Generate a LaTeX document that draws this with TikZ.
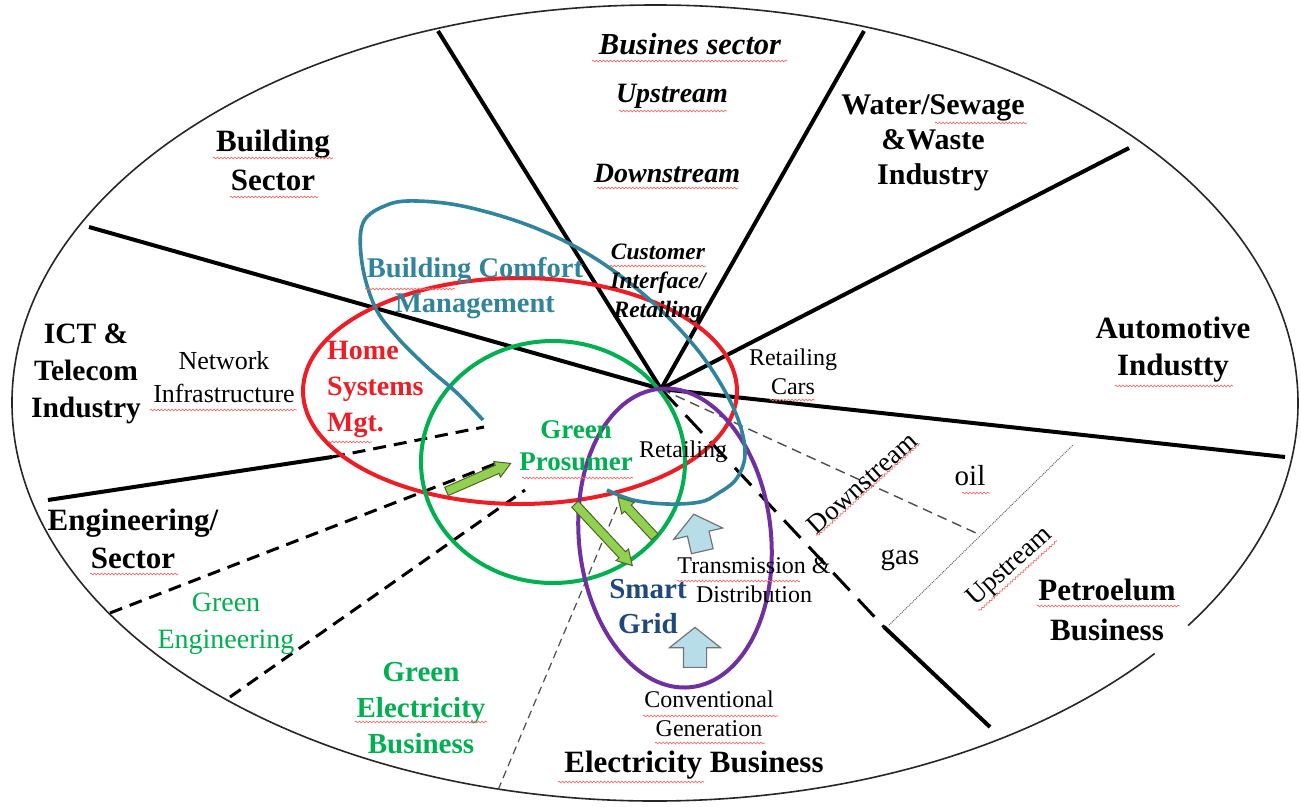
\documentclass[tikz,border=0pt]{standalone}
\usepackage{fontspec}
\setmainfont{Liberation Serif}
\usetikzlibrary{shapes.arrows,decorations.pathmorphing}
\definecolor{cred}{HTML}{EE1C24}
\definecolor{cgreen}{HTML}{00B050}
\definecolor{cpurple}{HTML}{7030A0}
\definecolor{cteal}{HTML}{31849B}
\definecolor{cnavy}{HTML}{1F497D}
\definecolor{arrgreen}{HTML}{92D050}
\definecolor{arrline}{HTML}{4F6228}
\definecolor{lblue}{HTML}{B7DEE8}
\definecolor{wavyred}{HTML}{EE7070}
\begin{document}
\begin{tikzpicture}[x=1pt,y=-1pt,
  every node/.style={inner sep=0pt, align=center},
  outer/.style={line width=1.6pt, black!85},
  sector/.style={line width=4pt, black},
  thickdash/.style={line width=3pt, black, dash pattern=on 13pt off 8pt},
  longdash/.style={line width=3pt, black, dash pattern=on 24pt off 12pt},
  thindash/.style={line width=1.4pt, black!70, dash pattern=on 10pt off 6pt},
  thindot/.style={line width=1pt, black!60, densely dotted},
  ring/.style={line width=4pt},
  garrow/.style={single arrow, draw=arrline, fill=arrgreen, line width=1pt,
    single arrow head extend=4pt, single arrow tip angle=60},
  barrow/.style={single arrow, draw=black!55, fill=lblue, line width=1.2pt,
    single arrow head extend=14pt, single arrow tip angle=103},
  lab/.style={font=\fontsize{31}{37}\selectfont\bfseries},
  bi/.style={font=\fontsize{28}{33}\selectfont\bfseries\itshape},
  cust/.style={font=\fontsize{23.5}{29}\selectfont\bfseries\itshape},
  reg/.style={font=\fontsize{26}{33}\selectfont},
  small/.style={font=\fontsize{24}{29}\selectfont},
  wavy/.style={draw=wavyred, line width=0.7pt, decorate,
    decoration={snake, amplitude=0.9pt, segment length=3.5pt}},
]
\useasboundingbox (0,0) rectangle (1301,806);

% outer ellipse (with small gap lower right)
\draw[outer] (655,403) ++(39:643 and 398) arc[start angle=39, end angle=394, x radius=643, y radius=398];

% hub and sector boundaries
\coordinate (hub) at (661,389);
\coordinate (e1) at (438,31);
\coordinate (e2) at (864,31);
\coordinate (e3) at (1129,148);
\coordinate (e4) at (1285,457);
\coordinate (e5) at (89,227);
\coordinate (e6a) at (48,500);
\coordinate (e6b) at (332,457);
\coordinate (e6c) at (484,427);
\coordinate (e7a) at (884,627);
\coordinate (e7b) at (990,727);
\coordinate (e8) at (976,533);
\coordinate (e9a) at (889,625);
\coordinate (e9b) at (1073,445);
\coordinate (da1) at (110,613);
\coordinate (da2) at (500,462);
\coordinate (db1) at (230,697);
\coordinate (db2) at (525,490);
\coordinate (dc1) at (498,790);
\coordinate (dc2) at (625,488);

\draw[sector] (hub) -- (e1);
\draw[sector] (hub) -- (e2);
\draw[sector] (hub) -- (e3);
\draw[sector] (hub) -- (e4);
\draw[sector] (hub) -- (e5);
\draw[sector] (e6a) -- (e6b);
\draw[thickdash] (e6b) -- (e6c);
\draw[longdash] (hub) -- (e7a);
\draw[sector] (e7a) -- (e7b);
\draw[thindash] (hub) -- (e8);
\draw[thindot] (e9a) -- (e9b);
\draw[thickdash] (da1) -- (da2);
\draw[thickdash] (db1) -- (db2);
\draw[thindash, line width=1.2pt, dash pattern=on 8pt off 5pt] (dc1) -- (dc2);

% coloured rings
\draw[ring, cred] (520,391) ellipse [x radius=217, y radius=113];
\draw[ring, cgreen] (553,462) ellipse [x radius=132, y radius=121];
\draw[ring, cpurple, rotate around={6:(675,538)}] (675,538) ellipse [x radius=96, y radius=150];
\draw[ring, cteal, line width=3.6pt] plot[smooth, tension=0.6] coordinates {
  (483,420) (457,393) (427,367) (397,337) (375,307) (362,263) (363,223) (387,205)
  (417,201) (467,207) (533,227) (593,257) (650,300) (700,353) (733,407) (745,450)
  (737,478) (717,494) (700,502) (667,504) (633,500) (607,490)};

% arrows
\node[garrow, minimum height=70pt, rotate=23.6] (ga1) at (475,479) {\rule{0pt}{8pt}};
\node[garrow, minimum height=84pt, rotate=-47] (ga2) at (601,532) {\rule{0pt}{8pt}};
\node[garrow, minimum height=54pt, rotate=133] (ga3) at (639,520) {\rule{0pt}{8pt}};
\node[barrow, minimum height=38pt, rotate=103] (ba1) at (699,537) {\rule{0pt}{21pt}};
\node[barrow, minimum height=40pt, rotate=90] (ba2) at (695,652) {\rule{0pt}{22pt}};

% texts
\node[bi, font=\fontsize{30.5}{33}\selectfont\bfseries\itshape] (bus) at (690,44) {Busines sector};
\node[bi] (bup) at (672,96) {Upstream};
\node[bi] (bdown) at (667,173) {Downstream};
\node[cust] (cust) at (658,283) {Customer\\Interface/\\Retailing};
\node[lab, font=\fontsize{31}{39}\selectfont\bfseries] (bsec) at (273,160) {Building\\Sector};
\node[lab, font=\fontsize{30}{35}\selectfont\bfseries] (water) at (933,143) {Water/Sewage\\\&Waste\\Industry};
\node[lab] (auto) at (1173,350) {Automotive\\Industty};
\node[lab, font=\fontsize{29.5}{37}\selectfont\bfseries] (ict) at (86,374) {ICT \&\\Telecom\\Industry};
\node[reg] (net) at (224,377) {Network\\Infrastructure};
\node[font=\fontsize{28}{36}\selectfont\bfseries, text=cred, align=left, anchor=west] (home) at (327,389) {Home\\Systems\\Mgt.};
\node[font=\fontsize{28.5}{35}\selectfont\bfseries, text=cteal] (bcm) at (475,288) {Building Comfort\\Management};
\node[font=\fontsize{27}{32}\selectfont\bfseries, text=cgreen] (gp) at (576,446) {Green\\Prosumer};
\node[small] (ret) at (683,452) {Retailing};
\node[small] (rc) at (793,372) {Retailing\\Cars};
\node[font=\fontsize{29}{35}\selectfont\bfseries, text=cnavy] (sg) at (648,607) {Smart\\Grid};
\node[small] (td) at (754,580) {Transmission \&\\Distribution};
\node[small] (cg) at (709,714) {Conventional\\Generation};
\node[lab] (eb) at (694,765) {Electricity Business};
\node[lab, font=\fontsize{31}{38}\selectfont\bfseries] (eng) at (133,539) {Engineering/\\Sector};
\node[font=\fontsize{28}{37}\selectfont, text=cgreen] (ge) at (226,624) {Green\\Engineering};
\node[font=\fontsize{29}{36}\selectfont\bfseries, text=cgreen] (geb) at (421,708) {Green\\Electricity\\Business};
\node[font=\fontsize{27}{32}\selectfont, rotate=42] (pds) at (862,483) {Downstream};
\node[font=\fontsize{29}{32}\selectfont] (oil) at (970,476) {oil};
\node[font=\fontsize{29}{32}\selectfont] (gas) at (900,560) {gas};
\node[font=\fontsize{27}{32}\selectfont, rotate=42] (pus) at (1010,567) {Upstream};
\node[lab, font=\fontsize{31}{40}\selectfont\bfseries] (pb) at (1107,610) {Petroelum\\Business};

% spell-check underlines
\draw[wavy] (592,61) -- (787,61);
\draw[wavy] (619,111) -- (727,111);
\draw[wavy] (597,188) -- (738,188);
\draw[wavy] (610,266) -- (706,266);
\draw[wavy] (213,158) -- (333,158);
\draw[wavy] (230,197) -- (318,197);
\draw[wavy] (935,123) -- (1027,123);
\draw[wavy] (1115,386) -- (1233,386);
\draw[wavy] (150,410) -- (297,410);
\draw[wavy] (365,289) -- (455,289);
\draw[wavy] (328,442) -- (372,442);
\draw[wavy] (522,478) -- (633,478);
\draw[wavy] (770,400) -- (815,400);
\draw[wavy] (677,581) -- (800,581);
\draw[wavy] (643,716) -- (778,716);
\draw[wavy] (655,743) -- (765,743);
\draw[wavy] (558,782) -- (704,782);
\draw[wavy] (355,722) -- (487,722);
\draw[wavy] (90,574) -- (178,574);
\draw[wavy] (1037,606) -- (1180,606);
\draw[wavy] (962,493) -- (990,493);
\draw[wavy] (pds.south west) -- (pds.south east);
\draw[wavy] (pus.south west) -- (pus.south east);
\end{tikzpicture}
\end{document}
